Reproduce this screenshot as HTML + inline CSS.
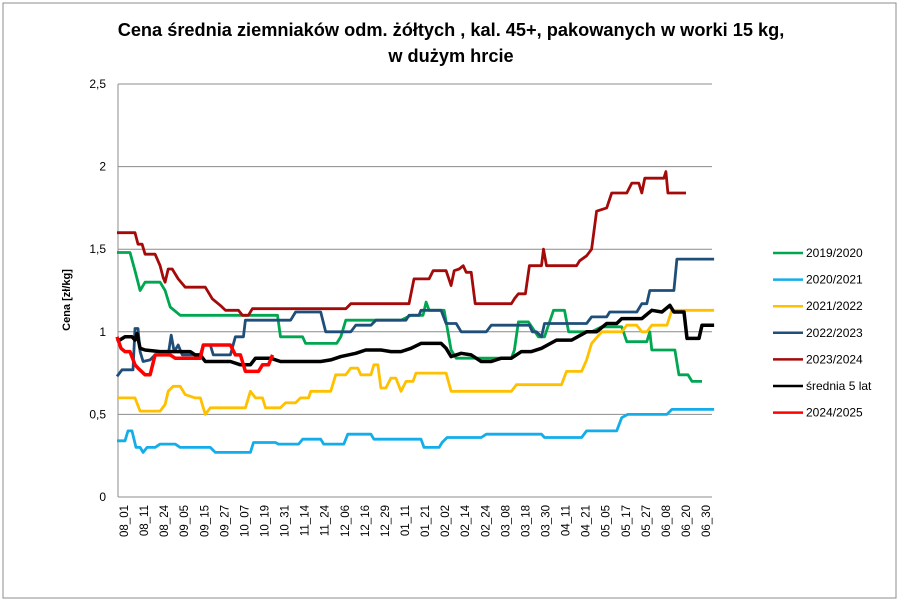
<!DOCTYPE html>
<html><head><meta charset="utf-8"><style>
body{margin:0;background:#fff;}
svg{display:block;font-family:"Liberation Sans",Calibri,sans-serif;}
</style></head><body>
<svg id="chart" width="900" height="602">
<rect x="3" y="3" width="893" height="595" fill="#fff" stroke="#8c8c8c"/>
<text x="451" y="36" text-anchor="middle" font-size="18.2" font-weight="bold">Cena średnia ziemniaków odm. żółtych , kal. 45+, pakowanych w worki 15 kg,</text>
<text x="451" y="62" text-anchor="middle" font-size="18.2" font-weight="bold">w dużym hrcie</text>
<text transform="translate(70,300) rotate(-90)" text-anchor="middle" font-size="11" font-weight="bold">Cena [zł/kg]</text>
<g id="grid"></g><g id="series"></g><g id="xlabels"></g><g id="legend"></g>
</svg>
<script>
const yTicks=[0,0.5,1,1.5,2,2.5];
const yTickLabels=["0","0,5","1","1,5","2","2,5"];
const xLabels=["08_01","08_11","08_24","09_05","09_15","09_27","10_07","10_19","10_31","11_14","11_24","12_06","12_16","12_29","01_11","01_21","02_02","02_14","02_24","03_08","03_18","03_30","04_11","04_21","05_05","05_17","05_27","06_08","06_20","06_30"];
const seriesNames=["2019/2020","2020/2021","2021/2022","2022/2023","2023/2024","średnia 5 lat","2024/2025"];
const t1920=[-0.35,0.3,0.55,0.8,1.05,1.8,2.05,2.3,2.8,7.65,7.8,8.9,9.05,10.6,10.8,11.05,13.8,14.3,14.9,15.05,15.2,15.95,16.3,16.55,19.3,19.45,19.65,20.15,20.65,20.95,21.4,21.95,22.15,23.3,23.8,24.8,25.05,26.05,26.2,26.3,27.45,27.65,28.1,28.3,28.8];
const v1920=[1.48,1.48,1.37,1.25,1.3,1.3,1.25,1.15,1.1,1.1,.97,.97,.93,.93,.97,1.07,1.07,1.1,1.1,1.18,1.13,1.13,.89,.84,.84,.89,1.06,1.06,.97,.97,1.13,1.13,1.0,1.0,1.03,1.03,.94,.94,1.0,.89,.89,.74,.74,.7,.7];
const t2021=[-0.35,0.05,0.2,0.4,0.6,0.8,0.95,1.15,1.55,1.8,2.55,2.8,4.3,4.55,6.3,6.45,7.55,7.7,8.7,8.9,9.8,9.95,10.95,11.15,12.3,12.45,14.8,14.95,15.7,15.85,16.1,17.8,18.05,20.8,20.95,22.8,23.05,24.55,24.8,25.1,27.05,27.3,29.4];
const v2021=[.34,.34,.4,.4,.3,.3,.27,.3,.3,.32,.32,.3,.3,.27,.27,.33,.33,.32,.32,.35,.35,.32,.32,.38,.38,.35,.35,.3,.3,.33,.36,.36,.38,.38,.36,.36,.4,.4,.48,.5,.5,.53,.53];
const t2122=[-0.35,0.55,0.8,1.8,2.05,2.2,2.45,2.8,3.05,3.55,3.8,4.05,4.3,6.05,6.3,6.55,6.9,7.05,7.8,8.05,8.55,8.8,9.2,9.3,10.3,10.55,11.05,11.3,11.65,11.8,12.3,12.45,12.65,12.8,13.05,13.3,13.55,13.8,14.05,14.4,14.55,16.05,16.3,19.3,19.55,21.8,22.05,22.8,23.05,23.3,23.8,24.8,25.05,25.55,25.8,26.05,26.3,27.05,27.3,29.4];
const v2122=[.6,.6,.52,.52,.56,.64,.67,.67,.62,.6,.6,.5,.54,.54,.64,.6,.6,.54,.54,.57,.57,.6,.6,.64,.64,.74,.74,.78,.78,.74,.74,.8,.8,.66,.66,.72,.72,.64,.7,.7,.75,.75,.64,.64,.68,.68,.76,.76,.83,.93,1.0,1.0,1.04,1.04,1.0,1.0,1.04,1.04,1.13,1.13];
const t2223=[-0.35,-0.1,0.45,0.55,0.7,0.8,0.95,1.3,1.55,2.2,2.35,2.5,2.7,2.9,3.8,3.95,4.3,4.45,5.3,5.55,5.95,6.05,8.3,8.55,9.8,10.05,11.3,11.55,12.3,12.55,14.05,14.2,14.7,14.8,15.8,16.05,16.55,16.8,18.05,18.3,20.2,20.35,20.55,20.8,20.95,23.05,23.3,24.05,24.2,25.55,25.8,26.05,26.2,27.4,27.55,29.4];
const v2223=[.73,.77,.77,1.02,1.02,.88,.82,.83,.86,.86,.98,.88,.92,.86,.86,.92,.92,.86,.86,.97,.97,1.07,1.07,1.12,1.12,1.0,1.0,1.04,1.04,1.07,1.07,1.1,1.1,1.13,1.13,1.05,1.05,1.0,1.0,1.04,1.04,1.0,1.0,.97,1.05,1.05,1.09,1.09,1.12,1.12,1.17,1.17,1.25,1.25,1.44,1.44];
const t2324=[-0.35,0.55,0.7,0.9,1.05,1.55,1.8,1.95,2.05,2.2,2.4,2.7,3.05,4.05,4.4,4.8,5.05,5.7,5.9,6.2,6.4,11.05,11.3,14.2,14.45,15.2,15.4,16.05,16.3,16.45,16.7,16.9,17.05,17.3,17.5,19.3,19.45,19.65,20.0,20.2,20.8,20.9,21.05,22.55,22.7,23.05,23.3,23.55,24.05,24.3,25.05,25.3,25.65,25.8,25.95,26.9,27.0,27.1,28.0];
const v2324=[1.6,1.6,1.53,1.53,1.47,1.47,1.4,1.33,1.3,1.38,1.38,1.32,1.27,1.27,1.2,1.16,1.13,1.13,1.1,1.1,1.14,1.14,1.17,1.17,1.32,1.32,1.37,1.37,1.28,1.37,1.38,1.4,1.36,1.36,1.17,1.17,1.2,1.23,1.23,1.4,1.4,1.5,1.4,1.4,1.43,1.46,1.5,1.73,1.75,1.84,1.84,1.9,1.9,1.84,1.93,1.93,1.97,1.84,1.84];
const tAvg=[-0.35,0.05,0.4,0.55,0.65,0.8,1.05,1.8,3.3,3.55,3.8,4.05,5.3,5.8,6.3,6.55,7.3,7.8,9.3,9.8,10.3,10.8,11.55,12.05,12.8,13.3,13.8,14.3,14.8,15.8,16.05,16.3,16.8,17.3,17.8,18.3,18.8,19.3,19.8,20.3,20.8,21.55,22.3,23.05,23.55,24.05,24.55,24.8,25.8,26.3,26.8,27.2,27.4,27.9,28.05,28.65,28.8,29.4];
const vAvg=[.94,.97,.97,.95,.99,.9,.89,.88,.88,.86,.86,.82,.82,.8,.8,.84,.84,.82,.82,.82,.83,.85,.87,.89,.89,.88,.88,.9,.93,.93,.9,.85,.87,.86,.82,.82,.84,.84,.88,.88,.9,.95,.95,1.0,1.0,1.05,1.05,1.08,1.08,1.13,1.12,1.16,1.12,1.12,.96,.96,1.04,1.04];
const t2425=[-0.35,-0.15,0.05,0.3,0.55,0.7,1.05,1.3,1.55,2.3,2.55,3.8,3.95,5.3,5.55,5.8,6.05,6.7,6.9,7.2,7.4];
const v2425=[.97,.9,.88,.88,.8,.78,.74,.74,.86,.86,.84,.84,.92,.92,.86,.86,.76,.76,.8,.8,.86];
const NS="http://www.w3.org/2000/svg";
const L=118,R=712,Y0=497,YK=165.2;
const xs=t=>124+t*20.07, ys=v=>Y0-v*YK;
function mk(tag,attrs,parent){const e=document.createElementNS(NS,tag);for(const k in attrs)e.setAttribute(k,attrs[k]);parent.appendChild(e);return e;}
const grid=document.getElementById('grid');
yTicks.forEach((v,i)=>{
  const ln=mk('line',{x1:L,x2:R,y1:ys(v),y2:ys(v),stroke:'#8c8c8c','stroke-width':1},grid);
  
  
  const tx=mk('text',{x:106,y:ys(v)+4,'text-anchor':'end','font-size':12,fill:'#000'},grid);
  tx.textContent=yTickLabels[i];
  
  
});
const ax=mk('line',{x1:L,x2:L,y1:ys(2.5),y2:Y0,stroke:'#8c8c8c'},grid);


const xl=document.getElementById('xlabels');
xLabels.forEach((s,i)=>{
  const tx=mk('text',{transform:`translate(${xs(i)+4},505) rotate(-90)`,'text-anchor':'end','font-size':11.5},xl);
  tx.textContent=s;
  
  
});
const ser=[[t1920,v1920,'#00a650'],[t2021,v2021,'#13aeea'],[t2122,v2122,'#ffc000'],[t2223,v2223,'#1f4e79'],[t2324,v2324,'#a50a0a'],[tAvg,vAvg,'#000'],[t2425,v2425,'#ff0000']];
const sg=document.getElementById('series'), lg=document.getElementById('legend');
ser.forEach((s,i)=>{
  const n=Math.min(s[0].length,s[1].length);let d='';
  for(let k=0;k<n;k++)d+=(k?'L':'M')+xs(s[0][k]).toFixed(1)+' '+ys(s[1][k]).toFixed(1);
  const p=mk('path',{d:d,fill:'none',stroke:s[2],'stroke-width':(i==5||i==6)?3.5:2.8,'stroke-linejoin':'round'},sg);
  
  
  const y=253+i*26.6;
  const ll=mk('line',{x1:773,x2:803,y1:y,y2:y,stroke:s[2],'stroke-width':2.5},lg);
  
  
  const lt=mk('text',{x:806,y:y+4,'font-size':12},lg);
  lt.textContent=seriesNames[i];
  
  
});
</script>
</body></html>
